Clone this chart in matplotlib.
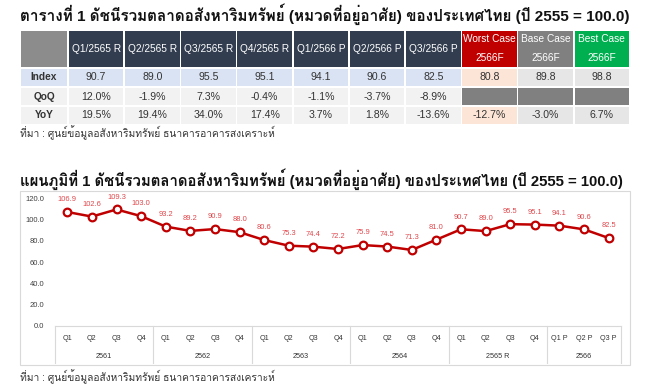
import matplotlib
matplotlib.use('Agg')
import matplotlib.pyplot as plt
from matplotlib import font_manager
from matplotlib.ft2font import FT2Font
from matplotlib.patches import Rectangle
import matplotlib.transforms as mtrans

# ---------------- data ----------------
title_table = "ตารางที่ 1 ดัชนีรวมตลาดอสังหาริมทรัพย์ (หมวดที่อยู่อาศัย) ของประเทศไทย (ปี 2555 = 100.0)"
title_chart = "แผนภูมิที่ 1 ดัชนีรวมตลาดอสังหาริมทรัพย์ (หมวดที่อยู่อาศัย) ของประเทศไทย (ปี 2555 = 100.0)"
source_text = "ที่มา : ศูนย์ข้อมูลอสังหาริมทรัพย์ ธนาคารอาคารสงเคราะห์"

table_columns = ["Q1/2565 R", "Q2/2565 R", "Q3/2565 R", "Q4/2565 R",
                 "Q1/2566 P", "Q2/2566 P", "Q3/2566 P"]
scenario_names = ["Worst Case", "Base Case", "Best Case"]
scenario_year = "2566F"
row_labels = ["Index", "QoQ", "YoY"]
table_index = [90.7, 89.0, 95.5, 95.1, 94.1, 90.6, 82.5]
table_qoq = [12.0, -1.9, 7.3, -0.4, -1.1, -3.7, -8.9]
table_yoy = [19.5, 19.4, 34.0, 17.4, 3.7, 1.8, -13.6]
scenario_index = [80.8, 89.8, 98.8]
scenario_yoy = [-12.7, -3.0, 6.7]

quarters = ["Q1", "Q2", "Q3", "Q4"] * 5 + ["Q1 P", "Q2 P", "Q3 P"]
years = ["2561", "2562", "2563", "2564", "2565 R", "2566"]
year_sizes = [4, 4, 4, 4, 4, 3]
index_values = [106.9, 102.6, 109.3, 103.0, 93.2, 89.2, 90.9, 88.0,
                80.6, 75.3, 74.4, 72.2, 75.9, 74.5, 71.3, 81.0,
                90.7, 89.0, 95.5, 95.1, 94.1, 90.6, 82.5]
y_ticks = [0, 20, 40, 60, 80, 100, 120]

# ---------------- fonts ----------------
def thai_fonts():
    names = set()
    for f in font_manager.fontManager.ttflist:
        try:
            cm = FT2Font(f.fname).get_charmap()
        except Exception:
            continue
        if 0x0E01 in cm and 0x0E35 in cm:
            names.add(f.name)
    return names

found = thai_fonts()
pref = ['Loma', 'Tahoma', 'IBM Plex Sans Thai Looped', 'Sarabun',
        'Noto Sans Thai Looped', 'Noto Sans Thai', 'Garuda']
thai = next((p for p in pref if p in found), sorted(found)[0] if found else None)
fam = ['Liberation Sans'] + ([thai] if thai else []) + ['DejaVu Sans']
plt.rcParams['font.family'] = fam

# ---------------- figure ----------------
W, H = 650, 390
fig = plt.figure(figsize=(6.5, 3.9), dpi=100)
fig.patch.set_facecolor('white')
bg = fig.add_axes([0, 0, 1, 1])
bg.set_xlim(0, W)
bg.set_ylim(H, 0)
bg.axis('off')

t1 = bg.text(20, 14, title_table, fontsize=10, fontweight='bold',
             color='#111111', ha='left', va='center')

# ---- table ----
x0, x1, xend = 20, 68, 630
ncols = len(table_columns) + len(scenario_names)
cw = (xend - x1) / ncols
col_x = [x1 + i * cw for i in range(ncols + 1)]
row_y = [30, 68, 87, 106, 125]
g = 0.8

def cell(xa, xb, ya, yb, color):
    bg.add_patch(Rectangle((xa + g, ya + g), xb - xa - 2 * g, yb - ya - 2 * g,
                           facecolor=color, edgecolor='none'))

header_dark = '#323e4f'
scen_colors = ['#c00000', '#808080', '#00b050']
cell(x0, x1, row_y[0], row_y[1], '#8c8c8c')
for i, name in enumerate(table_columns):
    cell(col_x[i], col_x[i + 1], row_y[0], row_y[1], header_dark)
    bg.text((col_x[i] + col_x[i + 1]) / 2, (row_y[0] + row_y[1]) / 2, name,
            color='white', fontsize=7.3, ha='center', va='center')
for j, name in enumerate(scenario_names):
    i = len(table_columns) + j
    cell(col_x[i], col_x[i + 1], row_y[0], row_y[1], scen_colors[j])
    cx = (col_x[i] + col_x[i + 1]) / 2
    bg.text(cx, 39.5, name, color='white', fontsize=7.3, ha='center', va='center')
    bg.text(cx, 58, scenario_year, color='white', fontsize=7.3, ha='center', va='center')

row_fill = ['#dae3f3', '#f2f2f2', '#f2f2f2']
scen_fill = [['#fce4d6', '#e6e6e6', '#e6e6e6'],
             ['#808080', '#808080', '#808080'],
             ['#fce4d6', '#e6e6e6', '#e6e6e6']]
row_vals = [[f"{v:.1f}" for v in table_index],
            [f"{v:.1f}%" for v in table_qoq],
            [f"{v:.1f}%" for v in table_yoy]]
scen_vals = [[f"{v:.1f}" for v in scenario_index],
             ['', '', ''],
             [f"{v:.1f}%" for v in scenario_yoy]]
txt_col = '#333333'
for r in range(3):
    ya, yb = row_y[r + 1], row_y[r + 2]
    cy = (ya + yb) / 2
    cell(x0, x1, ya, yb, row_fill[r])
    bg.text((x0 + x1) / 2, cy, row_labels[r], fontsize=7.3, fontweight='bold',
            color=txt_col, ha='center', va='center')
    for i in range(len(table_columns)):
        cell(col_x[i], col_x[i + 1], ya, yb, row_fill[r])
        bg.text((col_x[i] + col_x[i + 1]) / 2, cy, row_vals[r][i], fontsize=7.6,
                color=txt_col, ha='center', va='center')
    for j in range(len(scenario_names)):
        i = len(table_columns) + j
        cell(col_x[i], col_x[i + 1], ya, yb, scen_fill[r][j])
        if scen_vals[r][j]:
            bg.text((col_x[i] + col_x[i + 1]) / 2, cy, scen_vals[r][j], fontsize=7.6,
                    color=txt_col, ha='center', va='center')

s1 = bg.text(20, 133, source_text, fontsize=6.5, color='#333333', ha='left', va='center')

t2 = bg.text(20, 179, title_chart, fontsize=10, fontweight='bold',
             color='#111111', ha='left', va='center')

# chart frame
bg.add_patch(Rectangle((20, 191), 610, 174, facecolor='white',
                       edgecolor='#d9d9d9', linewidth=0.8))

# ---- chart ----
ax_left, ax_right, ax_zero, ax_top = 55, 621, 326, 192.7
ax = fig.add_axes([ax_left / W, (H - ax_zero) / H, (ax_right - ax_left) / W,
                   (ax_zero - ax_top) / H])
ax.set_facecolor('none')
n = len(index_values)
xs = list(range(n))
ax.plot(xs, index_values, color='#c00000', linewidth=1.8, marker='o',
        markersize=5.5, markerfacecolor='white', markeredgecolor='#c00000',
        markeredgewidth=1.6, zorder=3)
for x, v in zip(xs, index_values):
    ax.annotate(f"{v:.1f}", (x, v), xytext=(0, 8.8), textcoords='offset points',
                ha='center', va='center', fontsize=5.4, color='#e0474c')
ax.set_xlim(-0.5, n - 0.5)
ax.set_ylim(0, 125)
ax.set_yticks(y_ticks)
ax.set_yticklabels([f"{t:.1f}" for t in y_ticks])
ax.tick_params(axis='y', length=0, pad=7.5, labelsize=5.5, labelcolor='#404040')
ax.set_xticks([])
for s in ['top', 'right', 'left']:
    ax.spines[s].set_visible(False)
ax.spines['bottom'].set_color('#d9d9d9')
ax.spines['bottom'].set_linewidth(0.8)

tr = mtrans.blended_transform_factory(ax.transData, bg.transData)
for x, q in zip(xs, quarters):
    ax.text(x, 339, q, transform=tr, fontsize=5.2, color='#333333',
            ha='center', va='center', clip_on=False)
start = 0
bounds = [-0.5]
for yname, sz in zip(years, year_sizes):
    cx = start + (sz - 1) / 2
    ax.text(cx, 356, yname, transform=tr, fontsize=5.2, color='#333333',
            ha='center', va='center', clip_on=False)
    start += sz
    bounds.append(start - 0.5)
for b in bounds:
    ax.plot([b, b], [326, 363], transform=tr, color='#d9d9d9', linewidth=0.8,
            clip_on=False)

s2 = bg.text(20, 377, source_text, fontsize=6.5, color='#333333', ha='left', va='center')

# fit text widths to the reference layout
fig.canvas.draw()
r = fig.canvas.get_renderer()
for t, target in [(t1, 610), (t2, 605), (s1, 255), (s2, 255)]:
    w = t.get_window_extent(r).width
    if w > 0:
        t.set_fontsize(t.get_fontsize() * target / w)

fig.savefig('out.png', dpi=100, facecolor='white')
